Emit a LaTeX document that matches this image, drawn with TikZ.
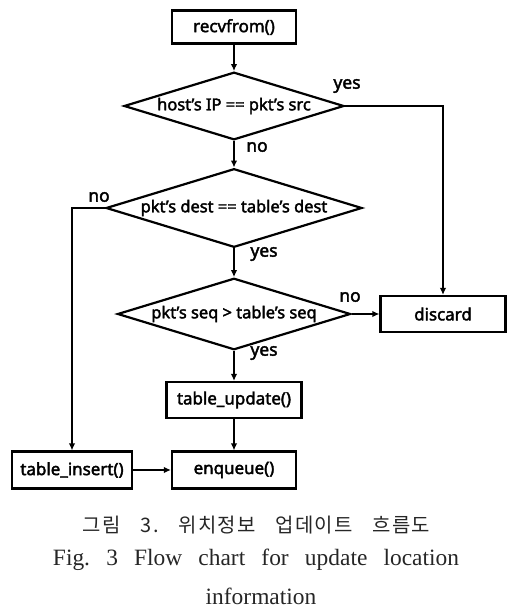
\documentclass[tikz,border=0pt]{standalone}
\usepackage{fontspec}
\newfontfamily\dfont{Noto Sans}[FakeBold=2.2]
\newfontfamily\krfont{Noto Sans CJK KR}[LetterSpace=6]
\newfontfamily\capfont{Liberation Serif}
\usetikzlibrary{shapes.geometric,arrows.meta}
\tikzset{
  boxnode/.style={draw, line width=2.2bp, inner sep=0pt, minimum width=#1, minimum height=36bp,
    font=\dfont\fontsize{17}{17}\selectfont},
  dianode/.style={diamond, draw, line width=2.2bp, inner sep=0pt, shape aspect=3,
    font=\dfont\fontsize{16.5}{16.5}\selectfont},
  lbl/.style={font=\dfont\fontsize{17.5}{17.5}\selectfont, inner sep=0pt},
  conn/.style={line width=2.2bp, -{Latex[length=7bp,width=6.5bp]}},
}
\begin{document}
\frenchspacing
\begin{tikzpicture}[x=1bp,y=-1bp]
\useasboundingbox (0,0) rectangle (531,613);
\fill[white] (0,0) rectangle (531,613);

\node[boxnode=124bp, minimum height=33bp] (recv) at (234,27) {recvfrom()};
\node[dianode, minimum width=220bp, minimum height=67bp] (d1) at (234,106) {host’s IP == pkt’s src};
\node[dianode, minimum width=256bp, minimum height=76bp] (d2) at (234,208) {pkt’s dest == table’s dest};
\node[dianode, minimum width=233bp, minimum height=68bp] (d3) at (234,314) {pkt’s seq > table’s seq};
\node[boxnode=125bp] (disc) at (443,314) {discard};
\node[boxnode=135bp] (tupd) at (234,400) {table\_update()};
\node[boxnode=124bp, minimum height=37bp] (enq) at (234,470) {enqueue()};
\node[boxnode=120bp, minimum height=37bp] (tins) at (72,470) {table\_insert()};

\node[lbl] (yes1) at (347,86) {yes};
\node[lbl] (no1) at (257,147) {no};
\node[lbl] (no2) at (99,197) {no};
\node[lbl] (yes2) at (264,254) {yes};
\node[lbl] (no3) at (350,297) {no};
\node[lbl] (yes3) at (264,353) {yes};

\draw[conn] (recv.south) -- (d1.north);
\draw[conn] (d1.south) -- (d2.north);
\draw[conn] (d1.east) -| (disc.north);
\draw[conn] (d2.west) -| (tins.north);
\draw[conn] (d2.south) -- (d3.north);
\draw[conn] (d3.east) -- (disc.west);
\draw[conn] (d3.south) -- (tupd.north);
\draw[conn] (tupd.south) -- (enq.north);
\draw[conn] (tins.east) -- (enq.west);

\node[inner sep=0pt, font=\krfont\fontsize{20}{20}\selectfont, text=black!85] (cap1) at (256.5,525)
  {\makebox[347bp][s]{그림 3. 위치정보 업데이트 흐름도}};
\node[inner sep=0pt, anchor=base, font=\capfont\fontsize{23.5}{23.5}\selectfont, text=black!85] (cap2) at (256,565)
  {\makebox[406bp][s]{Fig. 3 Flow chart for update location}};
\node[inner sep=0pt, anchor=base, font=\capfont\fontsize{23.5}{23.5}\selectfont, text=black!85] (cap3) at (261,604)
  {information};
\end{tikzpicture}
\end{document}
